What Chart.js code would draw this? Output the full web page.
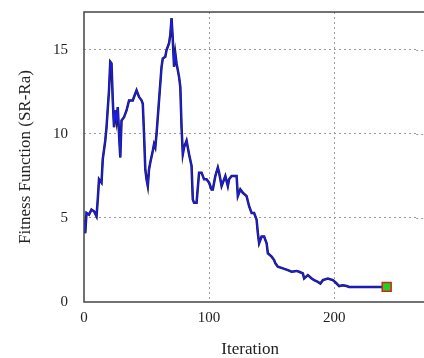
<!DOCTYPE html>
<html>
<head>
<meta charset="utf-8">
<script src="https://cdn.jsdelivr.net/npm/chart.js@4/dist/chart.umd.min.js"></script>
<style>
  html, body { margin: 0; padding: 0; background: #fff; }
</style>
</head>
<body>
<canvas id="fitChart" width="424" height="358"></canvas>
<script>
'use strict';

/* data */
const iterations = [0,1,2,4,6,8,10,11,12,14,15,17,18,20,21,22,23,24,25,26,27,28,29,30,32,34,36,39,40,42,44,46,47,48,49,50,51,52,53,55,56,57,58,60,62,63,65,66,68,69,70,71,72,73,74,76,77,78,79,80,82,84,86,87,88,90,92,94,96,98,100,102,103,105,107,108,110,112,113,115,116,118,120,122,123,125,127,130,132,134,136,138,139,140,142,144,146,147,150,152,153,155,159,163,166,170,172,175,176,179,182,184,187,189,191,195,199,202,204,207,210,212,242];
const fitness = [4.9,4.1,5.3,5.2,5.5,5.4,5.1,6.1,7.3,7.1,8.5,9.6,10.4,12.6,14.3,14.2,12.0,10.4,11.4,10.8,11.6,10.0,8.6,10.8,11.0,11.4,12.0,12.0,12.2,12.6,12.2,12.0,11.8,10.0,7.9,7.3,6.9,7.9,8.3,9.0,9.4,9.2,10.0,12.0,14.0,14.5,14.6,15.0,15.4,15.9,16.9,15.6,14.0,14.8,14.2,13.4,12.8,10.4,8.8,9.2,9.6,8.8,8.1,6.1,5.9,5.9,7.7,7.7,7.3,7.3,7.1,6.7,6.7,7.5,8.0,7.7,6.9,7.3,7.5,6.9,7.3,7.5,7.5,7.5,6.3,6.7,6.5,6.3,5.7,5.3,5.3,4.9,4.1,3.5,3.9,3.9,3.5,2.9,2.7,2.5,2.3,2.1,2.0,1.9,1.8,1.85,1.8,1.7,1.4,1.6,1.4,1.3,1.2,1.1,1.3,1.4,1.3,1.1,0.95,1.0,0.95,0.9,0.9];
const bestIter = [242];
const bestFit = [0.9];
const xTicks = [0, 100, 200];
const yTicks = [0, 5, 10, 15];

const curve = iterations.map((x, i) => ({ x, y: fitness[i] }));
const best = bestIter.map((x, i) => ({ x, y: bestFit[i] }));

const serif = 'Liberation Serif';

// plot box edges (left, bottom, top) running out to the canvas edge,
// plus the dotted y grid carried on past the chart area
const boxLines = {
  id: 'boxLines',
  beforeDatasetsDraw(chart) {
    const { ctx, chartArea: a, scales: { y } } = chart;
    const w = chart.width;
    ctx.save();
    ctx.strokeStyle = '#9a9a9a';
    ctx.lineWidth = 1;
    ctx.setLineDash([2, 3]);
    yTicks.filter(v => v > 0).forEach(v => {
      const py = Math.round(y.getPixelForValue(v)) + 0.5;
      ctx.beginPath();
      ctx.moveTo(a.right, py);
      ctx.lineTo(w, py);
      ctx.stroke();
    });
    ctx.restore();
  },
  afterDraw(chart) {
    const { ctx, chartArea: a } = chart;
    const w = chart.width;
    ctx.save();
    ctx.strokeStyle = '#444';
    ctx.lineWidth = 1.5;
    ctx.setLineDash([]);
    ctx.beginPath();
    ctx.moveTo(w, a.top);
    ctx.lineTo(a.left, a.top);
    ctx.lineTo(a.left, a.bottom);
    ctx.lineTo(w, a.bottom);
    ctx.stroke();
    ctx.restore();
  },
};

const gridColor = c => c.tick && c.tick.value === 0 ? 'rgba(0,0,0,0)' : '#9a9a9a';

new Chart(document.getElementById('fitChart').getContext('2d'), {
  type: 'line',
  data: {
    datasets: [
      {
        label: 'best',
        data: best,
        showLine: false,
        pointStyle: 'rect',
        pointRadius: 6.3,
        pointBackgroundColor: '#1fd21f',
        pointBorderColor: '#d42020',
        pointBorderWidth: 1.5,
      },
      {
        label: 'fitness',
        data: curve,
        borderColor: '#1c1ce6',
        borderWidth: 1.5,
        pointRadius: 0,
        tension: 0,
      },
      {
        label: 'fitness-edge',
        data: curve,
        borderColor: '#1a1a3a',
        borderWidth: 2.5,
        pointRadius: 0,
        tension: 0,
      },
    ],
  },
  options: {
    responsive: false,
    animation: false,
    layout: { padding: { left: 0, right: 0, top: 12, bottom: 0 } },
    plugins: {
      legend: { display: false },
      tooltip: { enabled: false },
    },
    scales: {
      x: {
        type: 'linear',
        min: 0, max: 265.6,
        afterBuildTicks: s => { s.ticks = xTicks.map(v => ({ value: v })); },
        afterFit: s => { s.height = 56; s.paddingLeft = 0; s.paddingRight = 0; },
        border: { display: false, dash: [2, 3] },
        grid: { drawTicks: false, color: gridColor, lineWidth: 1 },
        ticks: { padding: 7, color: '#222', font: { family: serif, size: 15 } },
        title: {
          display: true, text: 'Iteration', color: '#222',
          font: { family: serif, size: 17, lineHeight: 1 },
          padding: { top: 0, bottom: 0 },
        },
      },
      y: {
        min: 0, max: 17.26,
        afterBuildTicks: s => { s.ticks = yTicks.map(v => ({ value: v })); },
        afterFit: s => { s.width = 84; s.paddingTop = 0; s.paddingBottom = 0; },
        border: { display: false, dash: [2, 3] },
        grid: { drawTicks: false, color: gridColor, lineWidth: 1 },
        ticks: { padding: 16, color: '#222', font: { family: serif, size: 15 } },
        title: {
          display: true, text: 'Fitness Function (SR-Ra)', color: '#222',
          font: { family: serif, size: 17, lineHeight: 1.2 },
          padding: { top: 15, bottom: 0 },
        },
      },
    },
  },
  plugins: [boxLines],
});
</script>
</body>
</html>
